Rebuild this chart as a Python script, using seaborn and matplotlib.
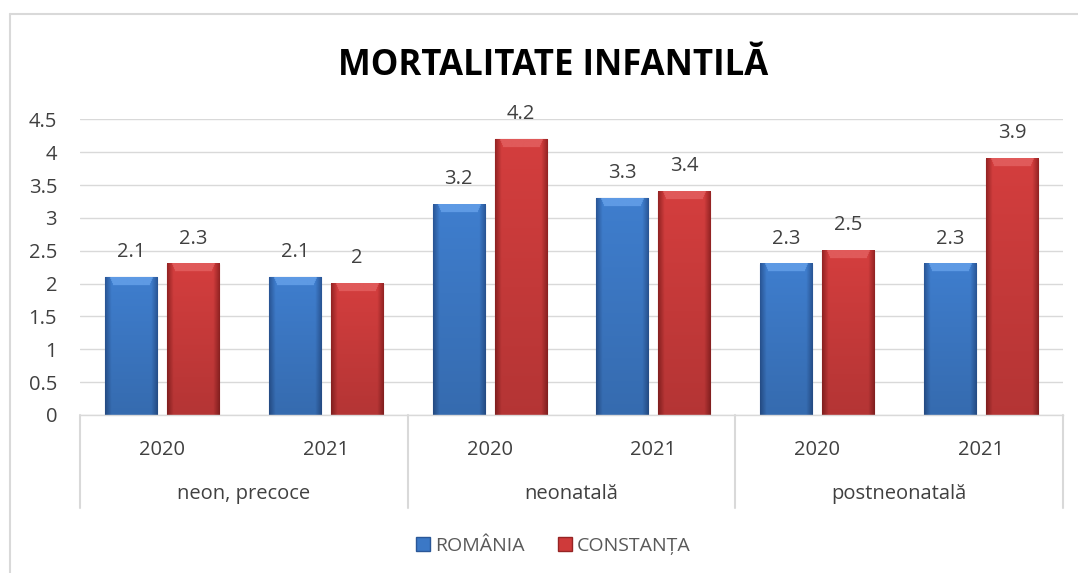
import numpy as np
import pandas as pd
import matplotlib
matplotlib.use('Agg')
import matplotlib.pyplot as plt
from matplotlib.lines import Line2D
import seaborn as sns

grupe = ['neon, precoce', 'neonatală', 'postneonatală']
ani = ['2020', '2021']
romania = [2.1, 2.1, 3.2, 3.3, 2.3, 2.3]
constanta = [2.3, 2.0, 4.2, 3.4, 2.5, 3.9]
serii = ['ROMÂNIA', 'CONSTANȚA']
y_ticks = [0, 0.5, 1, 1.5, 2, 2.5, 3, 3.5, 4, 4.5]

chei = [f'{g} {a}' for g in grupe for a in ani]
df = pd.DataFrame({
    'cheie': chei * 2,
    'serie': [serii[0]] * 6 + [serii[1]] * 6,
    'valoare': romania + constanta,
})

sns.set_style('white')
plt.rcParams['font.family'] = ['Open Sans', 'DejaVu Sans']

fig = plt.figure(figsize=(10.78, 5.73), dpi=100)
W, H = 1078, 573
ax = fig.add_axes([80 / W, 1 - 415 / H, (1063 - 80) / W, (415 - 119.3) / H])

culori = {'ROMÂNIA': '#3B78C6', 'CONSTANȚA': '#CF3A3A'}
sns.barplot(data=df, x='cheie', y='valoare', hue='serie', order=chei,
            hue_order=serii, palette=culori, width=0.756, gap=0.16,
            ax=ax, legend=False, saturation=1)

# gradient fill for the bevelled look
profil = {
    'ROMÂNIA': (np.array([0x2A, 0x57, 0x98]), np.array([0x3F, 0x7E, 0xCE]), np.array([0x5E, 0x9A, 0xE4])),
    'CONSTANȚA': (np.array([0x96, 0x24, 0x24]), np.array([0xD4, 0x3E, 0x3E]), np.array([0xE0, 0x5A, 0x5A])),
}
for i, patch in enumerate(ax.patches[:12]):
    s = serii[i // 6]
    dark, mid, light = profil[s]
    x0, y0 = patch.get_x(), patch.get_y()
    w, h = patch.get_width(), patch.get_height()
    if h <= 0:
        continue
    nx = 60
    ny = max(int(h * 65), 10)
    t = np.linspace(0, 1, nx)
    f = np.clip(np.minimum(t / 0.12, (1 - t) / 0.12), 0, 1)
    row = dark[None, :] * (1 - f[:, None]) + mid[None, :] * f[:, None]
    img = np.repeat(row[None, :, :], ny, axis=0)
    # darker towards the bottom
    fade = np.linspace(1.0, 0.85, ny)[:, None, None]
    img = img * fade
    for r in range(8):
        img[r, 6 + r // 2:nx - 6 - r // 2] = light
    ax.imshow(img / 255.0, extent=[x0, x0 + w, y0, y0 + h], aspect='auto',
              origin='upper', zorder=patch.get_zorder() + 0.1, clip_path=patch,
              interpolation='bilinear')
    patch.set_edgecolor(tuple(dark / 255.0))
    patch.set_linewidth(0.8)

ax.set_xlim(-0.5, 5.5)
ax.set_ylim(0, 4.5)
ax.set_yticks(y_ticks)
ax.set_yticklabels([f'{v:g}' for v in y_ticks])
ax.set_xticks(range(6))
ax.set_xticklabels(ani * 3)
ax.tick_params(axis='y', length=0, pad=16.5, labelsize=14.5, labelcolor='#404040')
ax.tick_params(axis='x', length=0, pad=18, labelsize=14.5, labelcolor='#404040')
ax.set_xlabel('')
ax.set_ylabel('')
ax.grid(axis='y', color='#D9D9D9', linewidth=1)
ax.set_axisbelow(True)
for sp in ['top', 'right', 'left']:
    ax.spines[sp].set_visible(False)
ax.spines['bottom'].set_color('#D9D9D9')
ax.spines['bottom'].set_linewidth(1)

# value labels
for i, patch in enumerate(ax.patches[:12]):
    v = (romania + constanta)[i]
    ax.annotate(f'{v:g}', (patch.get_x() + patch.get_width() / 2, patch.get_height()),
                xytext=(0, 11), textcoords='offset points', ha='center', va='bottom',
                fontsize=14.5, color='#404040')

# second level of the category axis
ax_h = 415 - 119.3
for k, g in enumerate(grupe):
    ax.text(2 * k + 0.5, -79 / ax_h, g, transform=ax.get_xaxis_transform(),
            ha='center', va='center', fontsize=14.5, color='#404040')
for xs in [-0.5, 1.5, 3.5, 5.5]:
    ax.plot([xs, xs], [0, -93 / ax_h], transform=ax.get_xaxis_transform(),
            color='#D9D9D9', linewidth=1.5, clip_on=False)

fig.text(553 / W, 1 - 66 / H, 'MORTALITATE INFANTILĂ', ha='center', va='center',
         fontsize=25, fontweight='bold', color='#000000')

handles = [Line2D([], [], marker='s', linestyle='', markersize=10,
                  markerfacecolor=culori[s], markeredgecolor=tuple(profil[s][0] / 255.0))
           for s in serii]
fig.legend(handles, serii, loc='center', bbox_to_anchor=(552 / W, 1 - 546 / H), ncol=2,
           frameon=False, fontsize=14, handletextpad=0.1, columnspacing=1.6,
           labelcolor='#595959', handlelength=1)

# outer chart frame
fig.add_artist(Line2D([10 / W, 10 / W], [0, 1 - 14 / H], transform=fig.transFigure,
                      color='#D9D9D9', linewidth=1.5))
fig.add_artist(Line2D([10 / W, 1], [1 - 14 / H, 1 - 14 / H], transform=fig.transFigure,
                      color='#D9D9D9', linewidth=1.5))

fig.savefig('out.png', dpi=100)
